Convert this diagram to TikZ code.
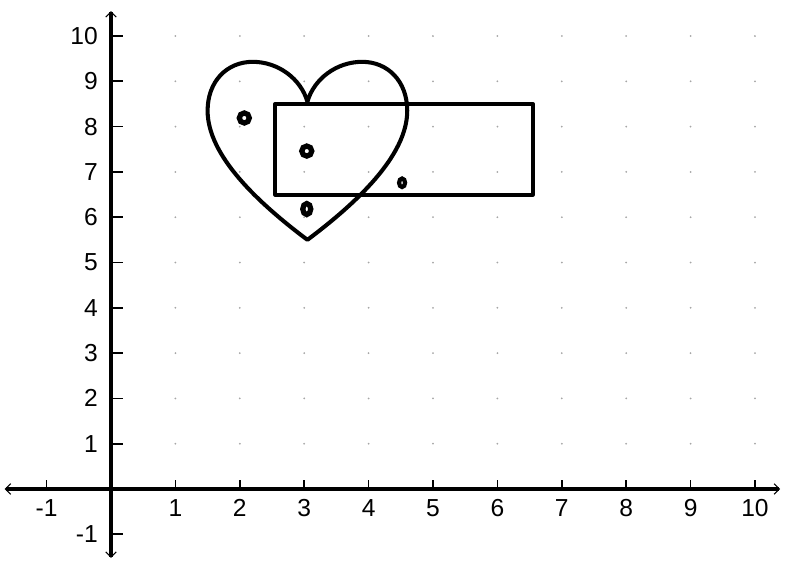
\documentclass[tikz,border=0pt]{standalone}
\usepackage{fontspec}
\setmainfont{Liberation Sans}
\usetikzlibrary{arrows.meta}
\begin{document}
\begin{tikzpicture}[x=1.288cm,y=0.906cm,
  axisline/.style={line width=2.2pt,-{Straight Barb[length=3pt,width=6pt,line width=0.6pt]}},
  tickmark/.style={line width=1pt},
  gridpt/.style={fill=black!35},
  shapeline/.style={line width=2.3pt,line join=round},
  ringmark/.style={draw,line width=3pt},
  lbl/.style={font=\fontsize{14}{16}\selectfont,inner sep=0pt}]
\useasboundingbox (-1.7236,-1.6115) rectangle (10.4814,10.7947);
% faint grid points
\foreach \i in {1,...,10}{\foreach \j in {1,...,10}{
  \fill[gridpt] (\i,\j) circle[radius=0.02cm];}}
% axes
\coordinate (o) at (0,0);
\coordinate (xr) at (10.39,0);
\coordinate (xlft) at (-1.65,0);
\coordinate (yt) at (0,10.55);
\coordinate (yb) at (0,-1.52);
\draw[axisline] (o) -- (xr);
\draw[axisline] (o) -- (xlft);
\draw[axisline] (o) -- (yt);
\draw[axisline] (o) -- (yb);
% ticks and labels
\foreach \i in {-1,1,2,...,10}{
  \coordinate (tx\i) at (\i,0);
  \draw[tickmark] (tx\i) -- ++(0,0.2);
  \node[lbl] (lx\i) at (\i,-0.42) {\i};
  \coordinate (ty\i) at (0,\i);
  \draw[tickmark] (ty\i) -- ++(0.18,0);
  \node[lbl,anchor=east] (ly\i) at (-0.2,\i) {\i};
}
% rectangle
\draw[shapeline] (2.55,6.5) rectangle (6.55,8.5);
% heart
\draw[shapeline] (3.05,5.5)
  .. controls (2.3,6.3) and (1.5,7.35) .. (1.5,8.35)
  .. controls (1.5,9.0) and (1.8,9.43) .. (2.2,9.43)
  .. controls (2.6,9.43) and (2.95,9.05) .. (3.05,8.55)
  .. controls (3.15,9.05) and (3.5,9.43) .. (3.9,9.43)
  .. controls (4.3,9.43) and (4.6,9.0) .. (4.6,8.35)
  .. controls (4.6,7.35) and (3.8,6.3) .. (3.05,5.5) -- cycle;
% rings
\node[ringmark,circle,minimum size=0.2cm,inner sep=0pt] (r1) at (2.07,8.19) {};
\node[ringmark,circle,minimum size=0.2cm,inner sep=0pt] (r2) at (3.04,7.46) {};
\draw[ringmark] (3.04,6.18) ellipse[x radius=0.08cm,y radius=0.11cm];
\draw[ringmark,line width=2.4pt] (4.52,6.76) ellipse[x radius=0.06cm,y radius=0.085cm];
\end{tikzpicture}
\end{document}
